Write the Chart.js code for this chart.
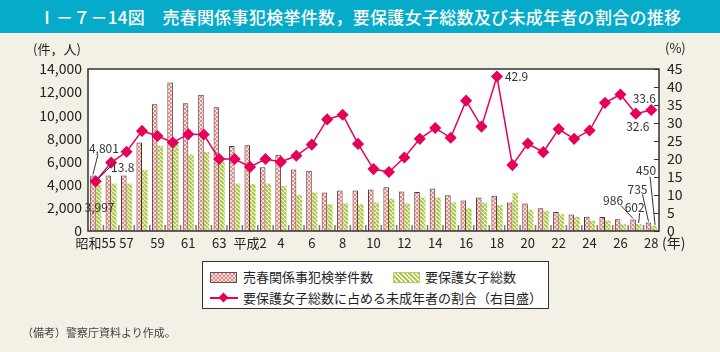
<!DOCTYPE html>
<html>
<head>
<meta charset="utf-8">
<script src="https://cdn.jsdelivr.net/npm/chart.js@4"></script>
<style>
  html,body{margin:0;padding:0;}
  body{width:720px;height:352px;background:#F3F0E5;position:relative;overflow:hidden;font-family:"Noto Sans CJK JP","Noto Sans",sans-serif;}
  #title{position:absolute;left:0;top:0;width:720px;height:33px;background:#05ABC8;color:#fff;font-size:17px;line-height:33px;text-align:center;font-weight:500;letter-spacing:0.3px;}
  #cv{position:absolute;left:0;top:0;}
  #legend{position:absolute;left:202px;top:261px;width:345px;height:46px;background:#fff;border:1.5px solid #333;}
  .sw{position:absolute;width:25px;height:9px;}
  #swP{left:7px;top:10px;border:1px solid #555;background-color:#FBDEDA;background-image:conic-gradient(#EE8981 25%,transparent 0 50%,#EE8981 0 75%,transparent 0);background-size:4px 4px;}
  #swG{left:190px;top:10px;border:1px solid #B9D060;background:repeating-linear-gradient(45deg,#AFC847 0 2px,#fff 2px 3.2px);}
  .lt{position:absolute;font-size:13px;color:#222;line-height:16px;white-space:nowrap;}
  #lineL{position:absolute;left:7px;top:35px;width:28px;height:1.5px;background:#E5005A;}
  #dia{position:absolute;left:17px;top:31.5px;width:7px;height:7px;background:#E5005A;transform:rotate(45deg);}
  #note{position:absolute;left:22px;top:324px;font-size:11px;color:#444;}
</style>
</head>
<body>
<div id="title">Ⅰ－７－14図　売春関係事犯検挙件数，要保護女子総数及び未成年者の割合の推移</div>
<canvas id="cv" width="720" height="352"></canvas>
<div id="legend">
  <div class="sw" id="swP"></div><div class="lt" style="left:40px;top:7px;">売春関係事犯検挙件数</div>
  <div class="sw" id="swG"></div><div class="lt" style="left:222px;top:7px;">要保護女子総数</div>
  <div id="lineL"></div><div id="dia"></div><div class="lt" style="left:40px;top:28px;">要保護女子総数に占める未成年者の割合（右目盛）</div>
</div>
<div id="note">（備考）警察庁資料より作成。</div>
<script>
const categories = ['昭和55','56','57','58','59','60','61','62','63','平成元','平成2','3','4','5','6','7','8','9','10','11','12','13','14','15','16','17','18','19','20','21','22','23','24','25','26','27','28'];
const arrests = [4801,4800,4800,7640,10960,12840,11050,11770,10700,7350,7400,5520,6600,5320,5200,3330,3500,3500,3590,3790,3410,3360,3670,3100,2630,2890,3040,2460,2370,1970,1650,1420,1240,1220,1010,986,735];
const protectedGirls = [3997,4100,4100,5260,7350,7700,6600,6830,5990,4100,4050,4100,3880,3120,3330,2310,2400,2310,2460,2800,2400,2890,2890,2460,1970,2460,2230,3270,1820,1740,1450,1240,880,900,580,602,450];
const minorShare = [13.8,19.0,22.0,27.8,26.4,24.6,26.9,26.8,20.0,20.0,17.8,20.0,19.2,20.9,24.0,31.0,32.3,24.2,17.2,16.4,20.4,25.6,28.6,25.9,36.2,29.0,42.9,18.3,24.3,21.9,28.3,25.6,27.9,35.6,37.9,32.6,33.6];
const leftTicks = [0,2000,4000,6000,8000,10000,12000,14000];
const rightTicks = [0,5,10,15,20,25,30,35,40,45];

function makePattern(kind){
  const c=document.createElement('canvas');
  const x=c.getContext('2d');
  c.width=4;c.height=4;
  if(kind==='check'){
    x.fillStyle='#FBDEDA';x.fillRect(0,0,4,4);
    x.fillStyle='#EE8981';x.fillRect(0,0,2,2);x.fillRect(2,2,2,2);
  } else {
    x.fillStyle='#ffffff';x.fillRect(0,0,4,4);
    x.strokeStyle='#AFC847';x.lineWidth=2.2;
    x.beginPath();
    for(let k=-4;k<=8;k+=4){x.moveTo(k,0);x.lineTo(k+4,4);}
    x.stroke();
  }
  return document.getElementById('cv').getContext('2d').createPattern(c,'repeat');
}

const annotations = [
  {ds:0, i:0, text:'4,801', dx:11, dy:-27, lead:[5,-21,0,-1]},
  {ds:2, i:0, text:'13.8', dx:27, dy:-14, lead:[16,-16,1,-1]},
  {ds:1, i:0, text:'3,997', dx:1, dy:23},
  {ds:2, i:26, text:'42.9', dx:8, dy:0, align:'left'},
  {ds:2, i:36, text:'33.6', dx:-7, dy:-12},
  {ds:2, i:35, text:'32.6', dx:2, dy:13},
  {ds:0, i:35, text:'986', dx:-20, dy:-19, lead:[-12,-14,0,-1]},
  {ds:1, i:35, text:'602', dx:-4, dy:-17, lead:[1,-11,0,-1]},
  {ds:0, i:36, text:'735', dx:-11, dy:-33, lead:[-6,-28,0,-1]},
  {ds:1, i:36, text:'450', dx:-8, dy:-55, lead:[-4,-49,1,-1]}
];

const deco = {
  id:'deco',
  beforeDatasetsDraw(chart){
    const {ctx,chartArea:a}=chart;
    ctx.save();
    ctx.fillStyle='#fff';
    ctx.fillRect(a.left,a.top,a.right-a.left,a.bottom-a.top);
    const xs=chart.scales.x;
    ctx.strokeStyle='#777';ctx.lineWidth=1.5;
    for(let i=1;i<categories.length;i++){
      const px=(xs.getPixelForValue(i-1)+xs.getPixelForValue(i))/2;
      ctx.beginPath();ctx.moveTo(px,a.bottom);ctx.lineTo(px,a.bottom-6);ctx.stroke();
    }
    ctx.restore();
  },
  afterDraw(chart){
    const {ctx,chartArea:a}=chart;
    ctx.save();
    ctx.strokeStyle='#333';ctx.lineWidth=1.5;
    ctx.strokeRect(a.left,a.top,a.right-a.left,a.bottom-a.top);
    const yr=chart.scales.y1;
    ctx.lineWidth=1;
    rightTicks.forEach(v=>{const py=Math.round(yr.getPixelForValue(v))+0.5;ctx.beginPath();ctx.moveTo(a.right,py);ctx.lineTo(a.right-5,py);ctx.stroke();});
    ctx.fillStyle='#222';ctx.font='13px "Noto Sans CJK JP"';ctx.textBaseline='middle';
    ctx.textAlign='left';
    ctx.fillText('(件，人)',33,49);
    ctx.fillText('(%)',665,48);
    ctx.font='14px "Noto Sans CJK JP"';
    ctx.fillText('(年)',662,243);
    ctx.font='12px "Noto Sans CJK JP"';ctx.fillStyle='#333';ctx.strokeStyle='#333';ctx.lineWidth=1;
    annotations.forEach(an=>{
      const el=chart.getDatasetMeta(an.ds).data[an.i];
      const x=el.x,y=el.y;
      ctx.textAlign=an.align||'center';
      ctx.fillText(an.text,x+an.dx,y+an.dy);
      if(an.lead){ctx.beginPath();ctx.moveTo(x+an.lead[0],y+an.lead[1]);ctx.lineTo(x+an.lead[2],y+an.lead[3]);ctx.stroke();}
    });
    ctx.restore();
  }
};

const tickFont={family:'"Noto Sans CJK JP"',size:14};
new Chart(document.getElementById('cv'),{
  data:{
    labels:categories,
    datasets:[
      {type:'bar',label:'売春関係事犯検挙件数',data:arrests,yAxisID:'y',backgroundColor:makePattern('check'),borderColor:'#3a3a3a',borderWidth:1,barPercentage:1,categoryPercentage:0.72,order:2},
      {type:'bar',label:'要保護女子総数',data:protectedGirls,yAxisID:'y',backgroundColor:makePattern('stripe'),borderWidth:0,barPercentage:1,categoryPercentage:0.72,order:2},
      {type:'line',label:'要保護女子総数に占める未成年者の割合（右目盛）',data:minorShare,yAxisID:'y1',borderColor:'#E5005A',borderWidth:1.5,pointStyle:'rectRot',pointRadius:5,pointBackgroundColor:'#E5005A',pointBorderColor:'#E5005A',tension:0,order:0}
    ]
  },
  options:{
    responsive:false,animation:false,devicePixelRatio:1,
    layout:{padding:{top:69,left:0,right:0,bottom:0}},
    plugins:{legend:{display:false},tooltip:{enabled:false}},
    scales:{
      x:{grid:{display:false,drawTicks:false},border:{display:false},
         ticks:{autoSkip:false,maxRotation:0,padding:4,color:'#222',font:{family:'"Noto Sans CJK JP"',size:13},
           callback:function(v,i){return i%2===0?this.getLabelForValue(v):'';}},
         afterFit(s){s.height=121;}},
      y:{position:'left',min:0,max:14000,grid:{display:false,drawTicks:false},border:{display:false},
         afterBuildTicks(s){s.ticks=leftTicks.map(v=>({value:v}));},
         ticks:{autoSkip:false,padding:6,color:'#222',font:tickFont,callback:v=>v.toLocaleString('en-US')},
         afterFit(s){s.width=88;}},
      y1:{position:'right',min:0,max:45,grid:{display:false,drawTicks:false},border:{display:false},
         afterBuildTicks(s){s.ticks=rightTicks.map(v=>({value:v}));},
         ticks:{autoSkip:false,padding:8,color:'#222',font:tickFont},
         afterFit(s){s.width=61;}}
    }
  },
  plugins:[deco]
});
</script>
</body>
</html>
